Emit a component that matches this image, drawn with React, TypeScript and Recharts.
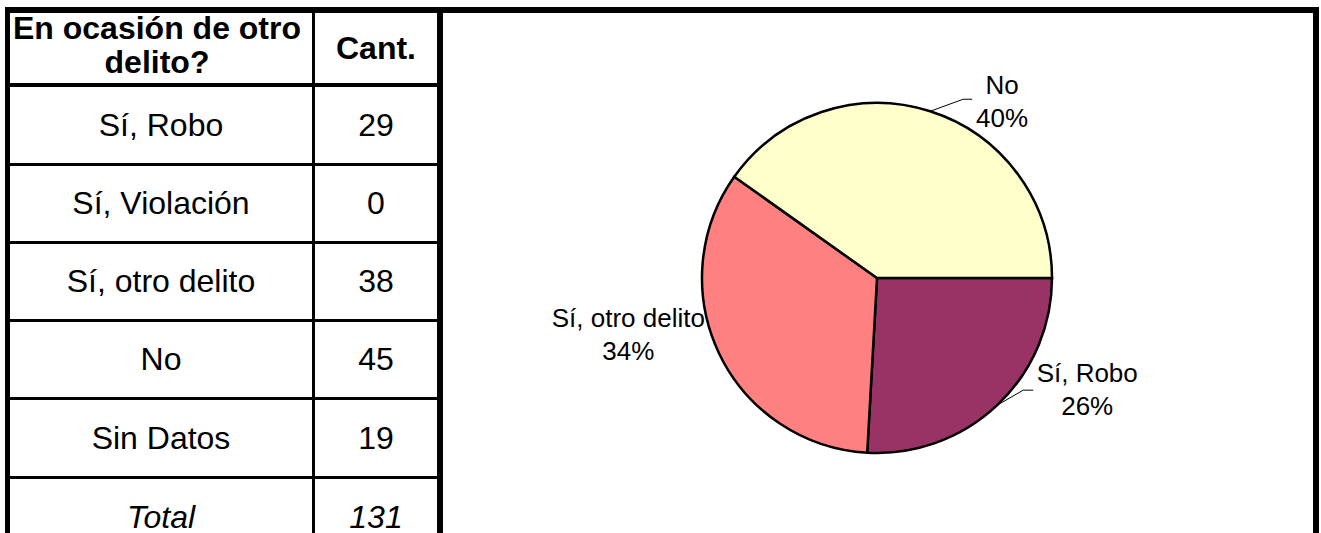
import { PieChart, Pie, Cell } from 'recharts'

// table rows (Sin Datos is listed in the table but left out of the pie)
const categories = ['Sí, Robo', 'Sí, Violación', 'Sí, otro delito', 'No', 'Sin Datos']
const counts = [29, 0, 38, 45, 19]
const headerLabels = ['En ocasión de otro\ndelito?', 'Cant.']
const totalLabel = 'Total'

const pieCategories = ['Sí, Robo', 'Sí, Violación', 'Sí, otro delito', 'No']
const sliceColors: Record<string, string> = {
  'Sí, Robo': '#993366',
  'Sí, Violación': '#9999FF',
  'Sí, otro delito': '#FF8080',
  'No': '#FFFFCC',
}

// hand-placed data labels, offsets from the slice edge at midAngle
const labelLayout: Record<string, { dx: number; dy: number; leader?: number[] }> = {
  'No': { dx: 72, dy: -17, leader: [33, -12, 42, -12] },
  'Sí, Robo': { dx: 90, dy: -23, leader: [26, -15, 36, -15] },
  'Sí, otro delito': { dx: -91, dy: -27 },
}

const FONT = '"Liberation Sans", Arial, sans-serif'
const RADIAN = Math.PI / 180
const rowHeights = [76, 75, 75, 75, 76]

const pieData = pieCategories
  .map((name) => ({ name, value: counts[categories.indexOf(name)] }))
  .filter((d) => d.value > 0)

const total = counts.reduce((a, b) => a + b, 0)

function renderLabel(props: any) {
  const { cx, cy, midAngle, outerRadius, percent, name } = props
  const lay = labelLayout[name]
  if (!lay) return null
  const ex = cx + outerRadius * Math.cos(-midAngle * RADIAN)
  const ey = cy + outerRadius * Math.sin(-midAngle * RADIAN)
  const tx = ex + lay.dx
  const ty = ey + lay.dy
  return (
    <g>
      {lay.leader && (
        <polyline
          points={`${ex},${ey} ${ex + lay.leader[0]},${ey + lay.leader[1]} ${ex + lay.leader[2]},${ey + lay.leader[3]}`}
          fill="none"
          stroke="#000"
          strokeWidth={1}
        />
      )}
      <text x={tx} y={ty} textAnchor="middle" fontSize={26} fontFamily={FONT} fill="#000">
        {name}
      </text>
      <text x={tx} y={ty + 33} textAnchor="middle" fontSize={26} fontFamily={FONT} fill="#000">
        {`${Math.round(percent * 100)}%`}
      </text>
    </g>
  )
}

const cellText = {
  display: 'flex',
  alignItems: 'center',
  justifyContent: 'center',
  textAlign: 'center' as const,
}

export default function App() {
  return (
    <div
      style={{
        position: 'absolute', left: 0, top: 0, width: 1321, height: 533,
        background: '#fff', overflow: 'hidden', fontFamily: FONT, color: '#000',
      }}
    >
      {/* table */}
      <div
        style={{
          position: 'absolute', left: 5, top: 7, width: 438, height: 540,
          borderTop: '6px solid #000', borderLeft: '5px solid #000', borderRight: '6px solid #000',
          boxSizing: 'border-box',
        }}
      >
        <div style={{ display: 'flex', height: 70, borderBottom: '4px solid #000', fontWeight: 'bold', fontSize: 32 }}>
          <div
            style={{
              ...cellText, width: 305, flexShrink: 0, borderRight: '3px solid #000', whiteSpace: 'pre',
              lineHeight: '34px', paddingRight: 8, paddingBottom: 7, boxSizing: 'border-box',
            }}
          >
            {headerLabels[0]}
          </div>
          <div style={{ ...cellText, flex: 1 }}>{headerLabels[1]}</div>
        </div>
        {categories.map((c, i) => (
          <div key={c} style={{ display: 'flex', height: rowHeights[i], borderBottom: '3px solid #000', fontSize: 32 }}>
            <div style={{ ...cellText, width: 302, borderRight: '3px solid #000' }}>{c}</div>
            <div style={{ ...cellText, flex: 1 }}>{counts[i]}</div>
          </div>
        ))}
        <div style={{ display: 'flex', height: 76, fontSize: 32, fontStyle: 'italic' }}>
          <div style={{ ...cellText, width: 302, borderRight: '3px solid #000' }}>{totalLabel}</div>
          <div style={{ ...cellText, flex: 1 }}>{total}</div>
        </div>
      </div>

      {/* chart panel */}
      <div
        style={{
          position: 'absolute', left: 443, top: 7, width: 876, height: 540,
          borderTop: '6px solid #000', borderRight: '6px solid #000', boxSizing: 'border-box',
        }}
      >
        <PieChart width={870} height={520}>
          <Pie
            data={pieData}
            dataKey="value"
            nameKey="name"
            cx={429}
            cy={260}
            outerRadius={175}
            startAngle={0}
            endAngle={-360}
            stroke="#000"
            strokeWidth={2.5}
            label={renderLabel}
            labelLine={false}
            isAnimationActive={false}
          >
            {pieData.map((d) => (
              <Cell key={d.name} fill={sliceColors[d.name]} />
            ))}
          </Pie>
        </PieChart>
      </div>
    </div>
  )
}
